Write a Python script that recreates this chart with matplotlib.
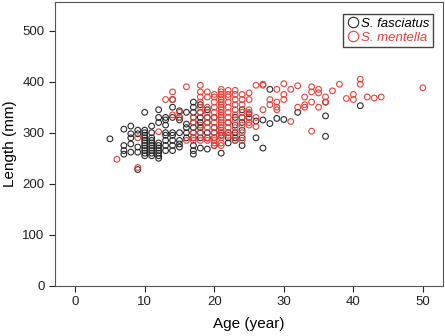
import numpy as np
import matplotlib.pyplot as plt
from matplotlib.lines import Line2D

plt.rcParams['font.family'] = ['Liberation Sans', 'DejaVu Sans']

# ages and lengths read per age column: {age: [lengths]}
fasciatus = {
    5: [288],
    7: [307, 275, 265, 258],
    8: [313, 298, 290, 278, 262],
    9: [305, 298, 272, 262, 228],
    10: [340, 305, 300, 295, 290, 285, 280, 275, 270, 265, 260, 255],
    11: [313, 300, 290, 285, 280, 275, 270, 265, 260, 255],
    12: [345, 330, 320, 280, 275, 270, 265, 260, 255, 250],
    13: [330, 325, 315, 300, 295, 285, 275, 265],
    14: [365, 350, 330, 300, 295, 285, 275, 265],
    15: [343, 330, 325, 300, 285, 278, 272],
    16: [340, 317, 310, 300, 290],
    17: [360, 350, 340, 330, 320, 310, 300, 290, 275, 265, 258],
    18: [355, 340, 330, 320, 310, 300, 290, 270],
    19: [345, 330, 320, 300, 290, 268],
    20: [330, 310, 300, 290, 275],
    21: [300, 295, 260],
    22: [320, 300, 290, 280],
    23: [330, 315, 300, 290, 285],
    24: [345, 330, 320, 305, 290, 275],
    25: [337, 330],
    26: [323, 290],
    27: [325, 270],
    28: [385, 318],
    29: [328],
    30: [326],
    32: [340],
    36: [360, 333, 293],
    41: [353],
}

mentella = {
    6: [248],
    9: [290, 232],
    12: [302],
    13: [365],
    14: [380, 365, 335],
    15: [340, 330],
    16: [390, 285],
    17: [330, 320, 300, 290, 285],
    18: [393, 380, 370, 360, 350, 340, 315, 300, 285],
    19: [380, 370, 350, 340, 330, 320, 310, 290, 285],
    20: [375, 370, 360, 350, 340, 330, 320, 310, 300, 290, 285, 280, 275],
    21: [385, 380, 375, 370, 365, 360, 355, 350, 345, 340, 335, 330, 325,
         320, 315, 310, 305, 300, 295, 290, 280, 275],
    22: [383, 375, 370, 360, 350, 340, 330, 320, 310, 300, 295],
    23: [383, 375, 365, 355, 345, 335, 325, 310, 295, 285],
    24: [375, 365, 355, 340, 330, 315, 300, 285],
    25: [378, 365, 345, 340, 330, 320, 315],
    26: [393, 330, 312],
    27: [395, 393, 345],
    28: [365, 355],
    29: [385, 360, 350, 345],
    30: [396, 375, 365],
    31: [385, 322],
    32: [392, 350],
    33: [370, 355, 350],
    34: [390, 380, 360, 303],
    35: [385, 378, 350],
    36: [370, 360],
    37: [382],
    38: [395],
    39: [367],
    40: [375, 365],
    41: [405, 395],
    42: [370],
    43: [368],
    44: [370],
    50: [388],
}

xticks = [0, 10, 20, 30, 40, 50]
yticks = [0, 100, 200, 300, 400, 500]


def flatten(d):
    ages = [a for a, ls in d.items() for _ in ls]
    lengths = [l for ls in d.values() for l in ls]
    return np.array(ages), np.array(lengths)


fig = plt.figure(figsize=(4.45, 3.36), dpi=100)
ax = fig.add_axes([0.1236, 0.149, 0.872, 0.845])

ax_f, len_f = flatten(fasciatus)
ax_m, len_m = flatten(mentella)

ax.scatter(ax_f, len_f, s=17, facecolors='none', edgecolors='#2a2a2a', linewidths=0.8)
ax.scatter(ax_m, len_m, s=17, facecolors='none', edgecolors='#e8403a', linewidths=0.8)

ax.set_xlim(-2.9, 52.9)
ax.set_ylim(0, 556)
ax.set_xticks(xticks)
ax.set_yticks(yticks)
ax.tick_params(direction='out', length=4, width=0.8, labelsize=9.5, colors='#222222')
for sp in ax.spines.values():
    sp.set_color('#555555')
    sp.set_linewidth(0.8)

ax.set_xlabel('Age (year)', fontsize=11, labelpad=6)
ax.set_ylabel('Length (mm)', fontsize=11, labelpad=4)

handles = [
    Line2D([], [], ls='none', marker='o', ms=7.5, mfc='none', mec='#2a2a2a', mew=0.8),
    Line2D([], [], ls='none', marker='o', ms=7.5, mfc='none', mec='#e8403a', mew=0.8),
]
leg = ax.legend(handles, ['S. fasciatus', 'S. mentella'], loc='upper right',
                bbox_to_anchor=(0.99, 0.98), fancybox=False, framealpha=1,
                edgecolor='#444444', borderpad=0.25, handletextpad=0.1,
                handlelength=1.0, labelspacing=0.15, prop={'style': 'italic', 'size': 9.5})
leg.get_frame().set_linewidth(1.0)
leg.get_texts()[1].set_color('#e8403a')

fig.savefig('out.png', dpi=100)
